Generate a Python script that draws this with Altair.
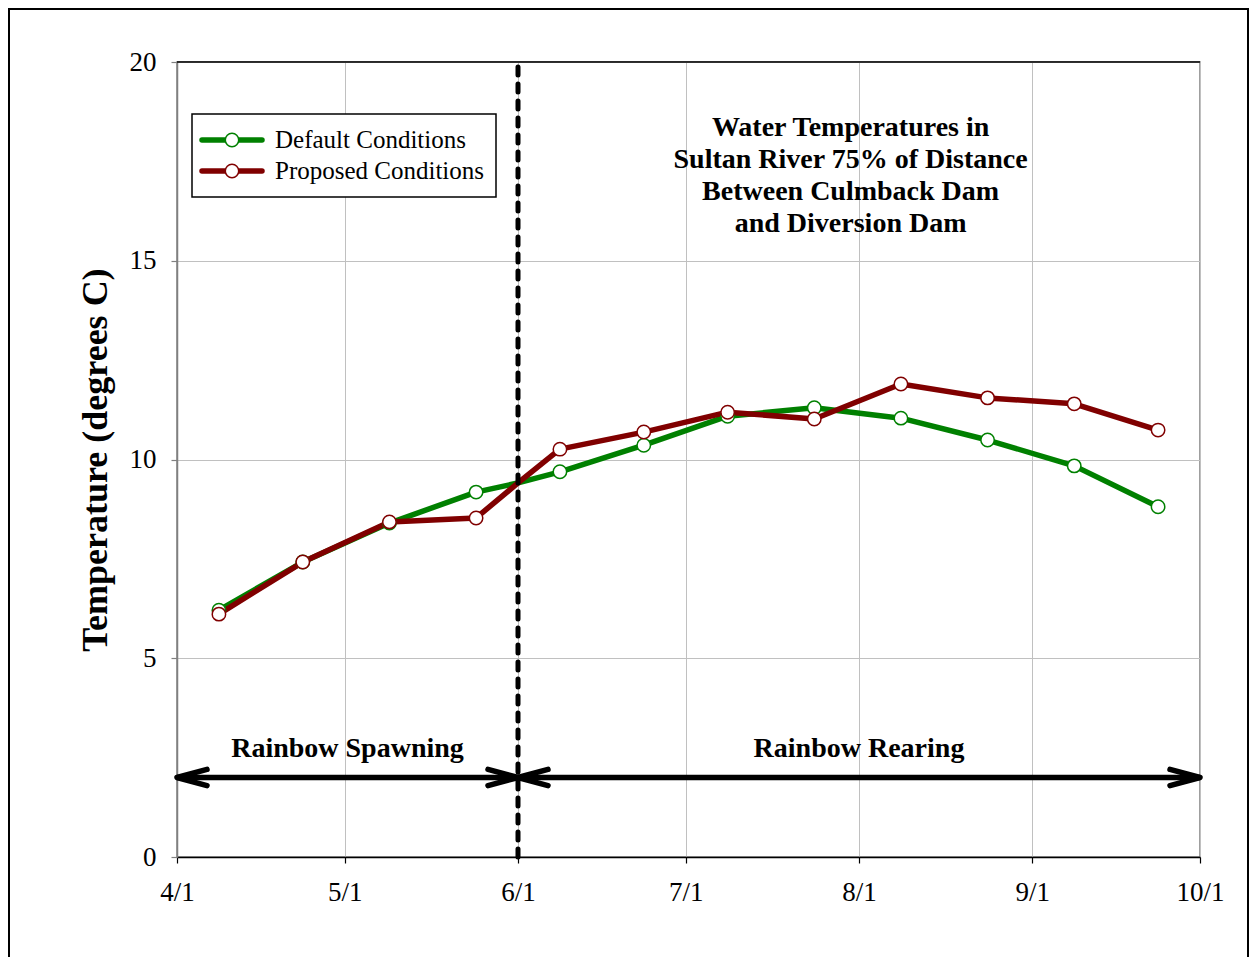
import altair as alt
import pandas as pd

FONT = "Liberation Serif"

# ---------------- data ----------------
series_names = ["Default Conditions", "Proposed Conditions"]
series_colors = ["#008000", "#800000"]

sample_dates = [
    "2005-04-08T12:00:00Z", "2005-04-23T12:00:00Z", "2005-05-09T00:00:00Z", "2005-05-24T12:00:00Z",
    "2005-06-08T12:00:00Z", "2005-06-23T12:00:00Z", "2005-07-08T12:00:00Z", "2005-07-24T00:00:00Z",
    "2005-08-08T12:00:00Z", "2005-08-24T00:00:00Z", "2005-09-08T12:00:00Z", "2005-09-23T12:00:00Z",
]
default_temps = [6.21, 7.42, 8.40, 9.18, 9.69, 10.36, 11.09, 11.30, 11.04, 10.49, 9.84, 8.81]
proposed_temps = [6.11, 7.42, 8.43, 8.53, 10.26, 10.69, 11.19, 11.02, 11.90, 11.55, 11.40, 10.74]

junction_date = "2005-06-01T00:00:00Z"
junction_temp = 9.41

periods = ["Rainbow Spawning", "Rainbow Rearing"]
period_starts = ["2005-04-01T00:00:00Z", "2005-06-01T00:00:00Z"]
period_ends = ["2005-06-01T00:00:00Z", "2005-10-01T00:00:00Z"]
arrow_level = 2.0
label_level = 2.52

annotation_lines = ["Water Temperatures in", "Sultan River 75% of Distance",
                    "Between Culmback Dam", "and Diversion Dam"]
annotation_date = "2005-07-30T12:00:00Z"
annotation_level = 18.14

y_ticks = [0, 5, 10, 15, 20]
x_tick_months = [4, 5, 6, 7, 8, 9, 10]
y_title = "Temperature (degrees C)"

# ---------------- tables ----------------
rows = []
for name, temps in zip(series_names, [default_temps, proposed_temps]):
    for d, t in zip(sample_dates, temps):
        rows.append({"series": name, "date": d, "temp": t, "marker": True})
    rows.append({"series": name, "date": junction_date, "temp": junction_temp, "marker": False})
df = pd.DataFrame(rows)

period_df = pd.DataFrame({"name": periods, "start": period_starts, "end": period_ends})
period_df["mid"] = [
    (pd.Timestamp(s) + (pd.Timestamp(e) - pd.Timestamp(s)) / 2).strftime("%Y-%m-%dT%H:%M:%SZ")
    for s, e in zip(period_starts, period_ends)
]
period_df["level"] = arrow_level
period_df["label_level"] = label_level

divider_df = pd.DataFrame({"date": [junction_date], "lo": [y_ticks[0]], "hi": [y_ticks[-1]]})
top_df = pd.DataFrame({"date": [period_starts[0]], "end": [period_ends[-1]], "level": [y_ticks[-1]]})
annot_df = pd.DataFrame({"date": [annotation_date], "level": [annotation_level], "text": [annotation_lines]})
one_df = pd.DataFrame({"k": [0]})

# ---------------- scales / axes ----------------
x_scale = alt.Scale(type="utc", domain=[alt.DateTime(year=2005, month=4, date=1, utc=True),
                                        alt.DateTime(year=2005, month=10, date=1, utc=True)])
x_axis = alt.Axis(
    values=[alt.DateTime(year=2005, month=m, date=1, utc=True) for m in x_tick_months],
    labelExpr="utcFormat(datum.value, '%-m/%-d')", labelFlush=False,
    labelFont=FONT, labelFontSize=27, labelColor="black", labelPadding=16,
    domainColor="black", domainWidth=1.5, tickColor="black", tickSize=6, tickWidth=1.2,
    grid=True, gridColor="#c0c0c0", gridWidth=1, title=None,
)
y_scale = alt.Scale(domain=[y_ticks[0], y_ticks[-1]], nice=False)
y_axis = alt.Axis(
    values=y_ticks, labelFont=FONT, labelFontSize=27, labelColor="black", labelPadding=15,
    domainColor="#808080", domainWidth=1.5, tickColor="#808080", tickSize=6, tickWidth=1.2,
    grid=True, gridColor="#c0c0c0", gridWidth=1,
    title=y_title, titleFont=FONT, titleFontSize=36, titleFontWeight="bold", titleColor="black",
    titlePadding=15,
)


def xe(field):
    return alt.X(f"{field}:T", scale=x_scale, axis=x_axis, title=None)


def ye(field):
    return alt.Y(f"{field}:Q", scale=y_scale, axis=y_axis, title=y_title)


color_scale = alt.Scale(domain=series_names, range=series_colors)

# ---------------- layers ----------------
lines = alt.Chart(df).mark_line(strokeWidth=5.5, strokeJoin="round").encode(
    x=xe("date"), y=ye("temp"),
    color=alt.Color("series:N", scale=color_scale, legend=None),
    detail="series:N",
)

points = alt.Chart(df).transform_filter("datum.marker").mark_point(
    shape="circle", size=180, filled=True, fill="white", strokeWidth=1.5, opacity=1
).encode(
    x=xe("date"), y=ye("temp"),
    stroke=alt.Stroke("series:N", scale=color_scale, legend=None),
)

divider = alt.Chart(divider_df).mark_rule(
    color="black", strokeWidth=5, strokeDash=[8, 9], strokeCap="round"
).encode(x=xe("date"), y=ye("lo"), y2="hi:Q")

top_line = alt.Chart(top_df).mark_rule(color="black", strokeWidth=1.5).encode(
    x=xe("date"), x2="end:T", y=ye("level")
)

shafts = alt.Chart(period_df).mark_rule(color="black", strokeWidth=5.5).encode(
    x=xe("start"), x2="end:T", y=ye("level")
)

LEFT_HEAD = "M1,-0.27L0,0L1,0.27"
RIGHT_HEAD = "M-1,-0.27L0,0L-1,0.27"
left_heads = alt.Chart(period_df).mark_point(
    shape=LEFT_HEAD, size=3600, filled=False, stroke="black", strokeWidth=5.5,
    strokeCap="round", strokeJoin="round", opacity=1
).encode(x=xe("start"), y=ye("level"))
right_heads = alt.Chart(period_df).mark_point(
    shape=RIGHT_HEAD, size=3600, filled=False, stroke="black", strokeWidth=5.5,
    strokeCap="round", strokeJoin="round", opacity=1
).encode(x=xe("end"), y=ye("level"))

period_labels = alt.Chart(period_df).mark_text(
    font=FONT, fontSize=28, fontWeight="bold", color="black", baseline="alphabetic", align="center"
).encode(x=xe("mid"), y=ye("label_level"), text="name:N")

annotation = alt.Chart(annot_df).mark_text(
    font=FONT, fontSize=28, fontWeight="bold", color="black", baseline="alphabetic",
    align="center", lineHeight=32
).encode(x=xe("date"), y=ye("level"), text="text")

# legend (decoration, pixel positioned)
legend_box = alt.Chart(one_df).mark_rect(fill="white", stroke="black", strokeWidth=1.5).encode(
    x=alt.value(15), x2=alt.value(319), y=alt.value(52), y2=alt.value(135)
)
legend_layers = [legend_box]
for i, (name, col) in enumerate(zip(series_names, series_colors)):
    ly = 78 + 31 * i
    ldf = pd.DataFrame({"name": [name]})
    legend_layers.append(
        alt.Chart(ldf).mark_rule(color=col, strokeWidth=5.5, strokeCap="round").encode(
            x=alt.value(25), x2=alt.value(85), y=alt.value(ly))
    )
    legend_layers.append(
        alt.Chart(ldf).mark_point(shape="circle", size=180, filled=True, fill="white",
                                  stroke=col, strokeWidth=1.5, opacity=1).encode(
            x=alt.value(55), y=alt.value(ly))
    )
    legend_layers.append(
        alt.Chart(ldf).mark_text(font=FONT, fontSize=25, color="black", align="left",
                                 baseline="middle").encode(
            x=alt.value(98), y=alt.value(ly), text="name:N")
    )

frame = alt.Chart(one_df).mark_rect(fill="transparent", stroke="black", strokeWidth=2).encode(
    x=alt.value(-168), x2=alt.value(1071), y=alt.value(-53), y2=alt.value(930)
)

chart = alt.layer(
    frame, top_line, lines, divider, points, shafts, left_heads, right_heads,
    period_labels, annotation, *legend_layers
).properties(
    width=1023, height=795,
    autosize=alt.AutoSizeParams(type="none"),
    padding={"left": 169, "top": 54, "right": 49, "bottom": 100},
    background="white",
).configure_view(stroke="#808080", strokeWidth=1.5)

chart.save("out.html", embed_options={"renderer": "svg", "actions": False})
